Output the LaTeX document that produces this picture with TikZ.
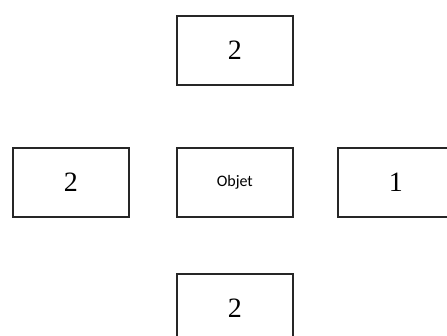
\documentclass[tikz,border=0pt]{standalone}
\usepackage{fontspec}
\setmainfont{Liberation Serif}
\newfontfamily\objfont{Carlito}
\begin{document}
\begin{tikzpicture}[x=1pt,y=-1pt,
  cell/.style={draw=black!85,line width=1.6pt,minimum width=116pt,minimum height=69pt,inner sep=0pt,anchor=north west,font=\fontsize{28}{28}\selectfont}]
\useasboundingbox (0,0) rectangle (447,335);
\clip (0,0) rectangle (447,335);
\node[cell] (top) at (176,15) {2};
\node[cell] (left) at (12,147) {2};
\node[cell,font=\objfont\fontsize{16}{16}\selectfont] (center) at (176,147) {Objet};
\node[cell] (right) at (337,147) {1};
\node[cell] (bottom) at (176,273) {2};
\end{tikzpicture}
\end{document}
